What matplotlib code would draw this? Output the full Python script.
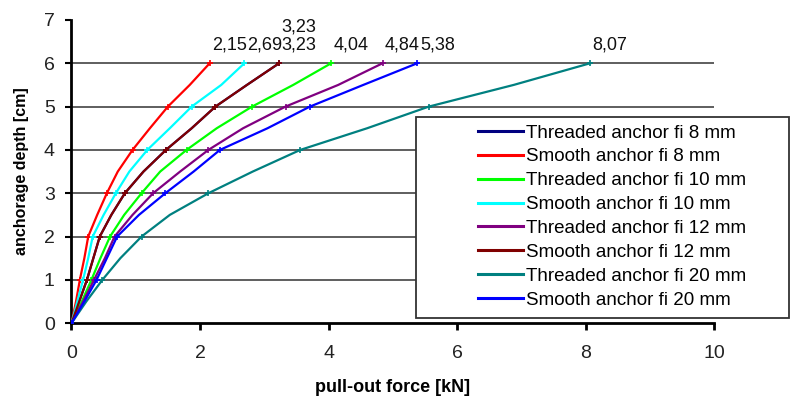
import numpy as np
import matplotlib
matplotlib.use("Agg")
from matplotlib import pyplot as plt
from matplotlib.patches import Rectangle

plt.rcParams['font.family'] = ['Liberation Sans', 'DejaVu Sans']

# anchorage depth [cm], same for every series
depth = [0, 0.5, 1, 1.5, 2, 2.5, 3, 3.5, 4, 4.5, 5, 5.5, 6]

# pull-out force [kN]
threaded_8 = [0, 0.12, 0.24, 0.34, 0.44, 0.62, 0.83, 1.12, 1.47, 1.87, 2.24, 2.73, 3.23]
smooth_8 = [0, 0.07, 0.13, 0.2, 0.26, 0.4, 0.55, 0.72, 0.95, 1.22, 1.5, 1.84, 2.15]
threaded_10 = [0, 0.16, 0.31, 0.45, 0.6, 0.82, 1.09, 1.38, 1.79, 2.26, 2.81, 3.45, 4.04]
smooth_10 = [0, 0.09, 0.18, 0.26, 0.33, 0.5, 0.69, 0.9, 1.18, 1.53, 1.87, 2.33, 2.69]
threaded_12 = [0, 0.18, 0.35, 0.52, 0.67, 0.95, 1.27, 1.69, 2.13, 2.67, 3.33, 4.15, 4.84]
smooth_12 = [0, 0.12, 0.24, 0.34, 0.44, 0.62, 0.83, 1.12, 1.47, 1.87, 2.24, 2.73, 3.23]
threaded_20 = [0, 0.23, 0.48, 0.76, 1.09, 1.53, 2.13, 2.82, 3.56, 4.6, 5.56, 6.88, 8.07]
smooth_20 = [0, 0.2, 0.39, 0.55, 0.71, 1.05, 1.46, 1.9, 2.31, 3.05, 3.71, 4.54, 5.38]

names = ['Threaded anchor fi 8 mm', 'Smooth anchor fi 8 mm',
         'Threaded anchor fi 10 mm', 'Smooth anchor fi 10 mm',
         'Threaded anchor fi 12 mm', 'Smooth anchor fi 12 mm',
         'Threaded anchor fi 20 mm', 'Smooth anchor fi 20 mm']
series = [threaded_8, smooth_8, threaded_10, smooth_10,
          threaded_12, smooth_12, threaded_20, smooth_20]
colors = ['#000080', '#FF0000', '#00FF00', '#00FFFF',
          '#800080', '#800000', '#008080', '#0000FF']

# end values written above the curves
end_labels = ['3,23', '2,15', '4,04', '2,69', '4,84', '3,23', '8,07', '5,38']
label_y = [6.84, 6.42, 6.42, 6.42, 6.42, 6.42, 6.42, 6.42]

fig = plt.figure(figsize=(7.9, 3.99), dpi=100)
ax = fig.add_axes([0.0905, 0.19, 0.8135, 0.76])

for i in range(len(series)):
    ax.plot(series[i], depth, color=colors[i], lw=1.6, label=names[i],
            marker='+', ms=5, mew=1.2, markevery=range(0, len(depth), 2), zorder=3)
    ax.text(series[i][-1] + 0.04, label_y[i], end_labels[i], fontsize=13,
            ha='left', va='center', color='#111111')

ax.hlines(range(1, 7), 0, 10, colors='#333333', lw=1.1, zorder=1)

ax.set_xlim(0, 10)
ax.set_ylim(0, 7)
ax.set_xticks(range(0, 11, 2))
ax.set_yticks(range(0, 8))
ax.spines['top'].set_visible(False)
ax.spines['right'].set_visible(False)
ax.spines['left'].set_linewidth(2)
ax.spines['bottom'].set_linewidth(2)
ax.tick_params(axis='x', length=5, width=2, pad=11, labelsize=14, labelcolor='#222222')
ax.tick_params(axis='y', length=4, width=1.5, pad=8, labelsize=14, labelcolor='#222222')
ax.set_xlabel('pull-out force [kN]', fontsize=13, fontweight='bold', labelpad=12)
ax.set_ylabel('anchorage depth [cm]', fontsize=11.5, fontweight='bold', labelpad=11)

# legend box
fig.add_artist(Rectangle((416 / 790, 1 - 318 / 399), 373 / 790, 201 / 399,
                         transform=fig.transFigure, facecolor='white',
                         edgecolor='#333333', lw=1.3, zorder=4))
handles = [plt.Line2D([], [], color=c, lw=2.2) for c in colors]
fig.legend(handles, names, loc='center', bbox_to_anchor=(0.775, 1 - 216.5 / 399),
           frameon=False, fontsize=13.5, handlelength=2.4, handletextpad=0.15,
           labelspacing=0.36, borderaxespad=0, borderpad=0)

fig.savefig('out.png', dpi=100)
